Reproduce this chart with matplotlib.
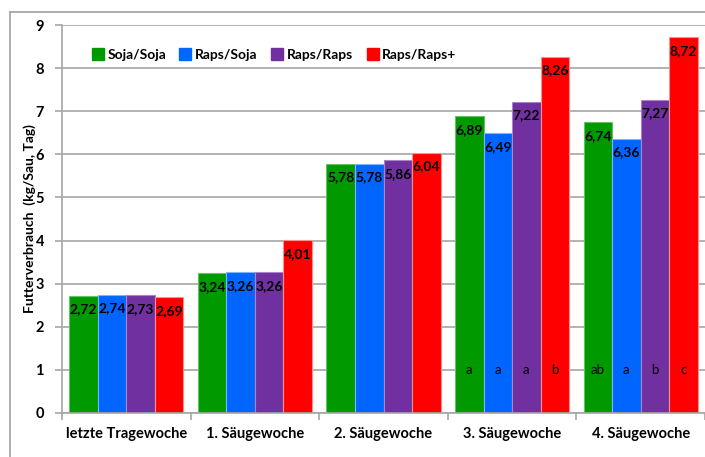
import matplotlib
matplotlib.use("Agg")
import matplotlib.pyplot as plt
import numpy as np
from matplotlib.lines import Line2D

plt.rcParams['font.family'] = ['Lato', 'DejaVu Sans']

categories = ["letzte Tragewoche", "1. Säugewoche", "2. Säugewoche", "3. Säugewoche", "4. Säugewoche"]
series_names = ["Soja/Soja", "Raps/Soja", "Raps/Raps", "Raps/Raps+"]
soja_soja = [2.72, 3.24, 5.78, 6.89, 6.74]
raps_soja = [2.74, 3.26, 5.78, 6.49, 6.36]
raps_raps = [2.73, 3.26, 5.86, 7.22, 7.27]
raps_rapsplus = [2.69, 4.01, 6.04, 8.26, 8.72]
letters = [
    ["", "", "", "a", "ab"],
    ["", "", "", "a", "a"],
    ["", "", "", "a", "b"],
    ["", "", "", "b", "c"],
]
colors = ["#009900", "#0066FF", "#7030A0", "#FF0000"]
edge_colors = ["#66c266", "#80b3ff", "#a883c6", "#ff9090"]

values = [soja_soja, raps_soja, raps_raps, raps_rapsplus]

fig = plt.figure(figsize=(7.05, 4.57), dpi=100)
ax = fig.add_axes([62 / 705, 1 - 413 / 457, 1 - 62 / 705, (413 - 25) / 457])

x = np.arange(len(categories))
w = 0.222
offset0 = 0.0
for i, (vals, c, ec) in enumerate(zip(values, colors, edge_colors)):
    pos = x + offset0 + (i - 1.5) * w
    ax.bar(pos, vals, width=w, color=c, edgecolor=ec, linewidth=0.8, zorder=2)
    for p, v, lt in zip(pos, vals, letters[i]):
        ax.annotate(f"{v:.2f}".replace(".", ","), (p, v), xytext=(0, -5.5),
                    textcoords="offset points", ha="center", va="top",
                    fontsize=10, fontweight="bold", color="black", zorder=3)
        if lt:
            ax.text(p, 1.0, lt, ha="center", va="center", fontsize=9.5,
                    color="black", zorder=3)

ax.set_xlim(-0.5, len(categories) - 0.5)
ax.set_ylim(0, 9)
ax.set_yticks(range(0, 10))
ax.set_yticklabels([str(t) for t in range(0, 10)], fontweight="bold", fontsize=10.5)
ax.yaxis.grid(True, color="#a6a6a6", linewidth=1.2, zorder=0)
ax.set_axisbelow(True)

ax.set_xticks(x)
ax.set_xticklabels(categories, fontweight="bold", fontsize=10.5)
ax.tick_params(axis="x", length=0, pad=10)
ax.set_xticks(np.arange(len(categories) + 1) - 0.5, minor=True)
ax.tick_params(axis="x", which="minor", length=5, color="#a6a6a6", width=1.2)
ax.tick_params(axis="y", length=5, color="#a6a6a6", width=1.2, pad=8)

for s in ["top", "right"]:
    ax.spines[s].set_visible(False)
for s in ["left", "bottom"]:
    ax.spines[s].set_color("#a6a6a6")
    ax.spines[s].set_linewidth(1.2)

ax.set_ylabel("Futterverbrauch  (kg/Sau, Tag)", fontweight="bold", fontsize=10)
ax.yaxis.set_label_coords(-0.040, 0.5)

handles = [Line2D([0], [0], marker="s", linestyle="none", markersize=8,
                  markerfacecolor=c, markeredgecolor=c) for c in colors]
leg = ax.legend(handles, series_names, loc="upper left", bbox_to_anchor=(0.025, 0.97),
                ncol=4, frameon=False, prop={"weight": "bold", "size": 10},
                handletextpad=0.2, columnspacing=0.9, handlelength=1.0)

# outer chart frame
fig.add_artist(Line2D([10 / 705, 10 / 705], [0, 1 - 12 / 457], color="#a0a0a0", lw=1.2))
fig.add_artist(Line2D([10 / 705, 1], [1 - 12 / 457, 1 - 12 / 457], color="#a0a0a0", lw=1.2))

fig.savefig("out.png", dpi=100)
